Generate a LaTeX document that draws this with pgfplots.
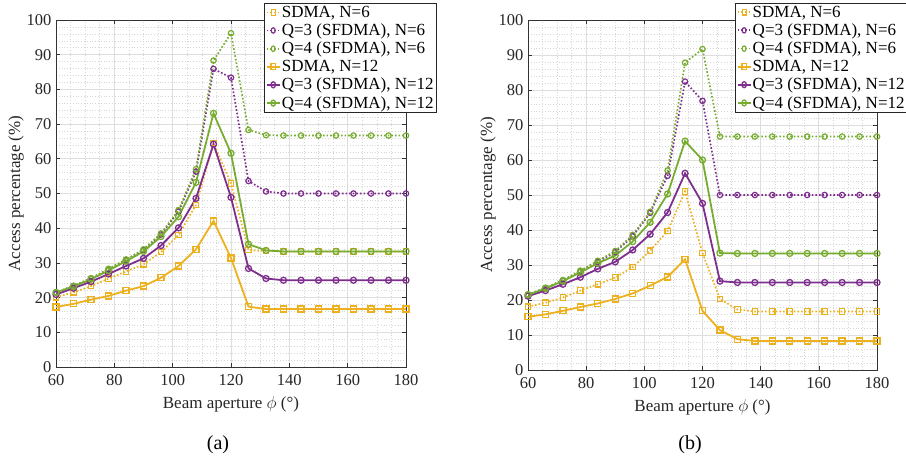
\documentclass[border=0pt]{standalone}
\usepackage{pgfplots}
\pgfplotsset{compat=1.18}
\usepackage{pgfplotstable}
\usepackage{fontspec}
\setmainfont{Liberation Serif}

\definecolor{myyellow}{RGB}{237,177,32}
\definecolor{mypurple}{RGB}{126,47,142}
\definecolor{mygreen}{RGB}{119,172,48}
\definecolor{majgrid}{RGB}{222,222,222}
\definecolor{mingrid}{RGB}{214,214,214}

% panel (a)
\pgfplotstableread{
x   sdmaA q3A  q4A  sdmaB q3B  q4B
60  20.1  21.4 21.5 17.3  20.9 21.5
66  21.5  23.3 23.4 18.2  22.7 23.2
72  23.3  25.4 25.6 19.4  24.6 25.3
78  25.5  28.0 28.3 20.5  26.8 27.8
84  27.5  30.8 31.0 22.0  29.1 30.5
90  29.6  33.7 33.9 23.3  31.3 33.3
96  33.1  38.2 38.5 25.7  35.0 37.6
102 38.0  44.8 45.2 29.1  40.1 43.3
108 46.7  56.3 57.0 33.9  48.6 53.2
114 64.5  85.9 88.3 42.1  64.2 73.1
120 52.9  83.4 96.2 31.4  48.9 61.6
126 33.7  53.6 68.3 17.4  28.4 35.4
132 33.4  50.6 66.8 16.7  25.5 33.6
138 33.3  50.0 66.7 16.7  25.0 33.3
144 33.3  50.0 66.7 16.7  25.0 33.3
150 33.3  50.0 66.7 16.7  25.0 33.3
156 33.3  50.0 66.7 16.7  25.0 33.3
162 33.3  50.0 66.7 16.7  25.0 33.3
168 33.3  50.0 66.7 16.7  25.0 33.3
174 33.3  50.0 66.7 16.7  25.0 33.3
180 33.3  50.0 66.7 16.7  25.0 33.3
}\dataA

% panel (b)
\pgfplotstableread{
x   sdmaA q3A  q4A  sdmaB q3B  q4B
60  18.1  21.5 21.6 15.2  21.1 21.5
66  19.2  23.3 23.5 15.9  22.7 23.3
72  20.7  25.5 25.7 16.9  24.5 25.4
78  22.7  28.1 28.4 18.0  26.5 27.9
84  24.5  30.9 31.2 19.0  28.9 30.5
90  26.4  33.7 34.0 20.3  30.9 32.7
96  29.4  38.2 38.6 21.9  34.3 36.7
102 34.1  44.9 45.2 24.1  38.8 42.2
108 39.7  55.5 57.0 26.6  45.0 50.3
114 51.0  82.4 87.8 31.6  56.2 65.4
120 33.4  76.9 91.7 16.9  47.6 60.0
126 20.3  50.0 66.7 11.4  25.4 33.4
132 17.3  50.0 66.7  8.8  25.0 33.3
138 16.7  50.0 66.7  8.3  25.0 33.3
144 16.7  50.0 66.7  8.3  25.0 33.3
150 16.7  50.0 66.7  8.3  25.0 33.3
156 16.7  50.0 66.7  8.3  25.0 33.3
162 16.7  50.0 66.7  8.3  25.0 33.3
168 16.7  50.0 66.7  8.3  25.0 33.3
174 16.7  50.0 66.7  8.3  25.0 33.3
180 16.7  50.0 66.7  8.3  25.0 33.3
}\dataB

\pgfplotsset{
  panel/.style={
    scale only axis,
    anchor=south west,
    xmin=60, xmax=180, ymin=0, ymax=100,
    xtick={60,80,...,180}, ytick={0,10,...,100},
    minor xtick={65,70,75,85,90,95,105,110,115,125,130,135,145,150,155,165,170,175},
    minor ytick={2,4,...,98},
    grid=both,
    major grid style={majgrid, line width=0.7bp},
    minor grid style={mingrid, line width=0.6bp, dash pattern=on 0.8bp off 2bp},
    axis line style={black!80, line width=0.6bp},
    tick align=inside,
    major tick length=4bp, minor tick length=0pt,
    tick style={black!80, line width=0.6bp},
    /pgf/number format/assume math mode=true,
    ticklabel style={font=\fontsize{16.5bp}{19bp}\selectfont, text=black!85},
    xticklabel style={yshift=-4bp},
    yticklabel style={xshift=-1bp},
    label style={font=\fontsize{17bp}{20bp}\selectfont, text=black!85},
    xlabel={Beam aperture $\phi$ (\textdegree)},
    ylabel={Access percentage (\%)},
    xlabel style={yshift=-4bp},
    ylabel style={yshift=-4bp},
    legend cell align=left,
    legend style={font=\fontsize{17bp}{19bp}\selectfont, draw=black!85, line width=0.6bp,
      fill=white, inner sep=1.5bp, row sep=2.4bp,
      at={(rel axis cs:1.088,1.049)}, anchor=north east,
      nodes={inner sep=1.3bp}},
    legend image post style={xscale=0.75},
  },
  sixd/.style={line width=1.7bp, dash pattern=on 1.6bp off 2bp, mark size=2.7bp,
    mark options={solid, line width=1.2bp}},
  twel/.style={line width=1.8bp, solid, mark size=3bp,
    mark options={solid, line width=1.3bp}},
}

\begin{document}
\begin{tikzpicture}
\useasboundingbox (0,0) rectangle (906bp,458bp);

\begin{axis}[panel, at={(56bp,91bp)}, width=350bp, height=347bp]
\addplot[sixd, myyellow, mark=square] table[x=x, y=sdmaA] {\dataA};
\addlegendentry{SDMA, N=6}
\addplot[sixd, mypurple, mark=o] table[x=x, y=q3A] {\dataA};
\addlegendentry{Q=3 (SFDMA), N=6}
\addplot[sixd, mygreen, mark=o] table[x=x, y=q4A] {\dataA};
\addlegendentry{Q=4 (SFDMA), N=6}
\addplot[twel, myyellow, mark=square] table[x=x, y=sdmaB] {\dataA};
\addlegendentry{SDMA, N=12}
\addplot[twel, mypurple, mark=o] table[x=x, y=q3B] {\dataA};
\addlegendentry{Q=3 (SFDMA), N=12}
\addplot[twel, mygreen, mark=o] table[x=x, y=q4B] {\dataA};
\addlegendentry{Q=4 (SFDMA), N=12}
\end{axis}

\begin{axis}[panel, at={(528bp,88bp)}, width=349bp, height=350bp]
\addplot[sixd, myyellow, mark=square] table[x=x, y=sdmaA] {\dataB};
\addlegendentry{SDMA, N=6}
\addplot[sixd, mypurple, mark=o] table[x=x, y=q3A] {\dataB};
\addlegendentry{Q=3 (SFDMA), N=6}
\addplot[sixd, mygreen, mark=o] table[x=x, y=q4A] {\dataB};
\addlegendentry{Q=4 (SFDMA), N=6}
\addplot[twel, myyellow, mark=square] table[x=x, y=sdmaB] {\dataB};
\addlegendentry{SDMA, N=12}
\addplot[twel, mypurple, mark=o] table[x=x, y=q3B] {\dataB};
\addlegendentry{Q=3 (SFDMA), N=12}
\addplot[twel, mygreen, mark=o] table[x=x, y=q4B] {\dataB};
\addlegendentry{Q=4 (SFDMA), N=12}
\end{axis}

\node[font=\fontsize{20bp}{23bp}\selectfont] at (218bp,13bp) {(a)};
\node[font=\fontsize{20bp}{23bp}\selectfont] at (690bp,13bp) {(b)};
\end{tikzpicture}
\end{document}
